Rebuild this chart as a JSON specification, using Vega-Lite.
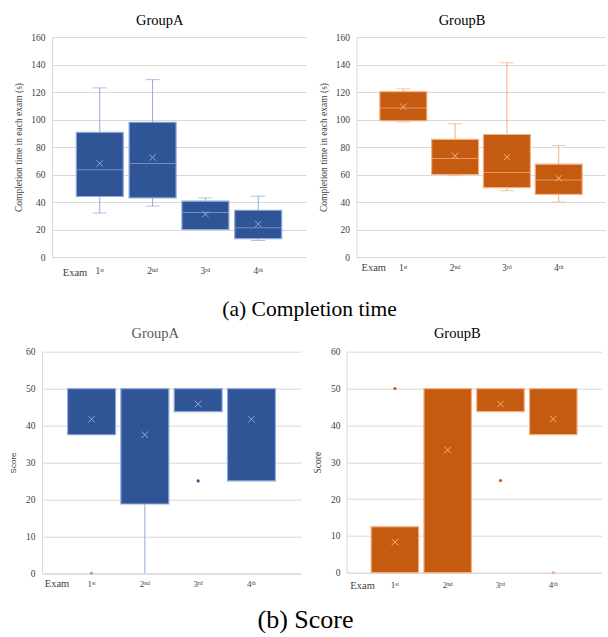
{
  "$schema": "https://vega.github.io/schema/vega-lite/v6.json",
  "padding": {"left": 9, "top": 12, "right": 0, "bottom": 0},
  "background": "white",
  "spacing": 5.7,
  "config": {
    "font": "Liberation Serif",
    "view": {"stroke": null},
    "axis": {"labelFont": "Liberation Serif", "titleFont": "Liberation Serif", "labelColor": "#404040", "titleColor": "#404040", "titleFontWeight": "normal", "ticks": false, "tickSize": 0, "gridColor": "#d9d9d9", "domainColor": "#d9d9d9", "gridWidth": 1, "domainWidth": 1, "labelOverlap": false},
    "style": {"guide-label": {"font": "Liberation Serif"}, "guide-title": {"font": "Liberation Serif"}, "group-title": {"font": "Liberation Serif"}},
    "title": {"font": "Liberation Serif", "fontWeight": "normal", "color": "#000000", "anchor": "middle", "baseline": "alphabetic", "frame": "bounds"}
  },
  "datasets": {
    "time": [
      {"group": "A", "exam": "1st", "low": 32, "q1": 44, "median": 63.5, "q3": 90.7, "high": 123, "mean": 68},
      {"group": "A", "exam": "2nd", "low": 37, "q1": 43, "median": 68, "q3": 98, "high": 129, "mean": 72.4},
      {"group": "A", "exam": "3rd", "low": 20, "q1": 20, "median": 32.3, "q3": 40.6, "high": 43, "mean": 31.2},
      {"group": "A", "exam": "4th", "low": 12, "q1": 13.4, "median": 21.3, "q3": 34, "high": 44.2, "mean": 24},
      {"group": "B", "exam": "1st", "low": 98.2, "q1": 99.1, "median": 108.3, "q3": 120.3, "high": 122.3, "mean": 109.3},
      {"group": "B", "exam": "2nd", "low": 59.2, "q1": 60, "median": 71.6, "q3": 85.5, "high": 97, "mean": 73.6},
      {"group": "B", "exam": "3rd", "low": 48.2, "q1": 50.4, "median": 61.4, "q3": 89.1, "high": 141.3, "mean": 72.6},
      {"group": "B", "exam": "4th", "low": 40, "q1": 45.6, "median": 56, "q3": 67.5, "high": 81.1, "mean": 57.3}
    ],
    "score": [
      {"group": "A", "exam": "1st", "low": 37.5, "q1": 37.5, "median": 50, "q3": 50, "high": 50, "mean": 41.7},
      {"group": "A", "exam": "2nd", "low": 0, "q1": 18.75, "median": 50, "q3": 50, "high": 50, "mean": 37.5},
      {"group": "A", "exam": "3rd", "low": 43.75, "q1": 43.75, "median": 50, "q3": 50, "high": 50, "mean": 45.8},
      {"group": "A", "exam": "4th", "low": 25, "q1": 25, "median": 50, "q3": 50, "high": 50, "mean": 41.7},
      {"group": "B", "exam": "1st", "low": 0, "q1": 0, "median": 12.5, "q3": 12.5, "high": 12.5, "mean": 8.3},
      {"group": "B", "exam": "2nd", "low": 0, "q1": 0, "median": 50, "q3": 50, "high": 50, "mean": 33.3},
      {"group": "B", "exam": "3rd", "low": 43.75, "q1": 43.75, "median": 50, "q3": 50, "high": 50, "mean": 45.8},
      {"group": "B", "exam": "4th", "low": 37.5, "q1": 37.5, "median": 50, "q3": 50, "high": 50, "mean": 41.7}
    ],
    "score_out": [
      {"group": "A", "exam": "1st", "value": 0},
      {"group": "A", "exam": "3rd", "value": 25},
      {"group": "B", "exam": "1st", "value": 50},
      {"group": "B", "exam": "3rd", "value": 25},
      {"group": "B", "exam": "4th", "value": 0}
    ]
  },
  "vconcat": [
    {
      "spacing": 12.5,
      "title": {"text": "(a) Completion time", "orient": "bottom", "fontSize": 21.5, "offset": 20.5, "font": "Liberation Serif", "frame": "bounds"},
      "hconcat": [
        {
          "width": 254, "height": 220,
          "title": {"text": "GroupA", "fontSize": 14.5, "offset": 4, "font": "Liberation Serif", "frame": "bounds"},
          "data": {"name": "time"},
          "transform": [{"filter": "datum.group == 'A'"}],
          "encoding": {
            "x": {"field": "exam", "type": "nominal", "sort": ["1st", "2nd", "3rd", "4th"],
              "scale": {"paddingInner": 0.11, "paddingOuter": 0.46},
              "axis": {"title": "Exam", "titleX": 22.5, "titleY": 18.5, "titleAlign": "center", "titleBaseline": "alphabetic", "titleFontSize": 10.5, "labelAngle": 0, "labelBaseline": "alphabetic", "labelPadding": 16.5, "labelFontSize": 9.5, "grid": false, "domain": true,
                "labelExpr": "datum.value == '1st' ? '1ˢᵗ' : datum.value == '2nd' ? '2ⁿᵈ' : datum.value == '3rd' ? '3ʳᵈ' : '4ᵗʰ'"}}
          },
          "layer": [
            {"mark": {"type": "rule", "color": "#8FAADC", "strokeWidth": 1},
              "encoding": {"y": {"field": "low", "type": "quantitative", "scale": {"domain": [0, 160], "nice": false},
                "axis": {"title": "Completion time in each exam (s)", "values": [0, 20, 40, 60, 80, 100, 120, 140, 160], "tickCount": 50, "grid": true, "domain": true, "labelPadding": 7, "labelFontSize": 9.5, "minExtent": 22, "maxExtent": 22, "titlePadding": 6.5, "titleFontSize": 9.5}},
                "y2": {"field": "high"}}},
            {"mark": {"type": "tick", "color": "#8FAADC", "size": 14, "thickness": 1}, "encoding": {"y": {"field": "low", "type": "quantitative"}}},
            {"mark": {"type": "tick", "color": "#8FAADC", "size": 14, "thickness": 1}, "encoding": {"y": {"field": "high", "type": "quantitative"}}},
            {"mark": {"type": "bar", "fill": "#2F5597", "stroke": "#8FAADC", "strokeWidth": 1.2}, "encoding": {"y": {"field": "q1", "type": "quantitative"}, "y2": {"field": "q3"}}},
            {"mark": {"type": "tick", "color": "#8FAADC", "size": 46, "thickness": 1}, "encoding": {"y": {"field": "median", "type": "quantitative"}}},
            {"mark": {"type": "point", "shape": "M-1,-1L1,1M-1,1L1,-1", "filled": false, "stroke": "#8FAADC", "strokeWidth": 1, "size": 40, "opacity": 1}, "encoding": {"y": {"field": "mean", "type": "quantitative"}}}
          ]
        },
        {
          "width": 249, "height": 220,
          "title": {"text": "GroupB", "fontSize": 14.5, "offset": 4, "font": "Liberation Serif", "frame": "bounds"},
          "data": {"name": "time"},
          "transform": [{"filter": "datum.group == 'B'"}],
          "encoding": {
            "x": {"field": "exam", "type": "nominal", "sort": ["1st", "2nd", "3rd", "4th"],
              "scale": {"paddingInner": 0.093, "paddingOuter": 0.45},
              "axis": {"title": "Exam", "titleX": 16.8, "titleY": 13.5, "titleAlign": "center", "titleBaseline": "alphabetic", "titleFontSize": 10.5, "labelAngle": 0, "labelBaseline": "alphabetic", "labelPadding": 13, "labelFontSize": 9.5, "grid": false, "domain": true,
                "labelExpr": "datum.value == '1st' ? '1ˢᵗ' : datum.value == '2nd' ? '2ⁿᵈ' : datum.value == '3rd' ? '3ʳᵈ' : '4ᵗʰ'"}}
          },
          "layer": [
            {"mark": {"type": "rule", "color": "#F4B183", "strokeWidth": 1},
              "encoding": {"y": {"field": "low", "type": "quantitative", "scale": {"domain": [0, 160], "nice": false},
                "axis": {"title": "Completion time in each exam (s)", "values": [0, 20, 40, 60, 80, 100, 120, 140, 160], "tickCount": 50, "grid": true, "domain": true, "labelPadding": 7, "labelFontSize": 9.5, "minExtent": 22, "maxExtent": 22, "titlePadding": 6, "titleFontSize": 9.5}},
                "y2": {"field": "high"}}},
            {"mark": {"type": "tick", "color": "#F4B183", "size": 14, "thickness": 1}, "encoding": {"y": {"field": "low", "type": "quantitative"}}},
            {"mark": {"type": "tick", "color": "#F4B183", "size": 14, "thickness": 1}, "encoding": {"y": {"field": "high", "type": "quantitative"}}},
            {"mark": {"type": "bar", "fill": "#C55A11", "stroke": "#F4B183", "strokeWidth": 1.2}, "encoding": {"y": {"field": "q1", "type": "quantitative"}, "y2": {"field": "q3"}}},
            {"mark": {"type": "tick", "color": "#F4B183", "size": 46, "thickness": 1}, "encoding": {"y": {"field": "median", "type": "quantitative"}}},
            {"mark": {"type": "point", "shape": "M-1,-1L1,1M-1,1L1,-1", "filled": false, "stroke": "#F4B183", "strokeWidth": 1, "size": 40, "opacity": 1}, "encoding": {"y": {"field": "mean", "type": "quantitative"}}}
          ]
        }
      ]
    },
    {
      "spacing": 1.6,
      "title": {"text": "(b) Score", "orient": "bottom", "fontSize": 26, "offset": 16, "font": "Liberation Serif", "frame": "bounds"},
      "hconcat": [
        {
          "width": 249, "height": 221.5,
          "title": {"text": "GroupA", "fontSize": 14.5, "offset": 5, "dx": -5, "color": "#595959", "font": "Liberation Serif", "frame": "bounds"},
          "encoding": {
            "x": {"field": "exam", "type": "nominal", "sort": ["1st", "2nd", "3rd", "4th"],
              "scale": {"range": [-10, 249], "paddingInner": 0.1, "paddingOuter": 0.48},
              "axis": {"title": "Exam", "titleX": 4.5, "titleY": 13.5, "titleAlign": "center", "titleBaseline": "alphabetic", "titleFontSize": 10.5, "labelAngle": 0, "labelBaseline": "alphabetic", "labelPadding": 13.5, "labelFontSize": 9, "grid": false, "domain": true,
                "labelExpr": "datum.value == '1st' ? '1ˢᵗ' : datum.value == '2nd' ? '2ⁿᵈ' : datum.value == '3rd' ? '3ʳᵈ' : '4ᵗʰ'"}}
          },
          "layer": [
            {"data": {"name": "score"}, "transform": [{"filter": "datum.group == 'A'"}],
              "mark": {"type": "rule", "color": "#8FAADC", "strokeWidth": 1},
              "encoding": {"y": {"field": "low", "type": "quantitative", "scale": {"domain": [0, 60], "nice": false},
                "axis": {"title": "Score", "titleFont": "Liberation Sans", "offset": 10, "values": [0, 10, 20, 30, 40, 50, 60], "tickCount": 50, "grid": true, "domain": true, "labelPadding": 7, "labelFontSize": 9.5, "minExtent": 17, "maxExtent": 17, "titlePadding": 7.5, "titleFontSize": 8}},
                "y2": {"field": "high"}}},
            {"data": {"name": "score"}, "transform": [{"filter": "datum.group == 'A'"}],
              "mark": {"type": "bar", "fill": "#2F5597", "stroke": "#8FAADC", "strokeWidth": 1.2}, "encoding": {"y": {"field": "q1", "type": "quantitative"}, "y2": {"field": "q3"}}},
            {"data": {"name": "score"}, "transform": [{"filter": "datum.group == 'A'"}],
              "mark": {"type": "tick", "color": "#8FAADC", "size": 47, "thickness": 1}, "encoding": {"y": {"field": "median", "type": "quantitative"}}},
            {"data": {"name": "score"}, "transform": [{"filter": "datum.group == 'A'"}],
              "mark": {"type": "point", "shape": "M-1,-1L1,1M-1,1L1,-1", "filled": false, "stroke": "#8FAADC", "strokeWidth": 1, "size": 44, "opacity": 1}, "encoding": {"y": {"field": "mean", "type": "quantitative"}}},
            {"data": {"name": "score_out"}, "transform": [{"filter": "datum.group == 'A'"}],
              "mark": {"type": "circle", "size": 10, "opacity": 1},
              "encoding": {"y": {"field": "value", "type": "quantitative"}, "color": {"condition": {"test": "datum.value == 0", "value": "#8FAADC"}, "value": "#2F5597"}}}
          ]
        },
        {
          "width": 255, "height": 221,
          "title": {"text": "GroupB", "fontSize": 14.5, "offset": 5, "font": "Liberation Serif", "frame": "bounds"},
          "encoding": {
            "x": {"field": "exam", "type": "nominal", "sort": ["1st", "2nd", "3rd", "4th"],
              "scale": {"paddingInner": 0.1, "paddingOuter": 0.465},
              "axis": {"title": "Exam", "titleX": 15.5, "titleY": 15.5, "titleAlign": "center", "titleBaseline": "alphabetic", "titleFontSize": 10.5, "labelAngle": 0, "labelBaseline": "alphabetic", "labelPadding": 14.5, "labelFontSize": 9, "grid": false, "domain": true,
                "labelExpr": "datum.value == '1st' ? '1ˢᵗ' : datum.value == '2nd' ? '2ⁿᵈ' : datum.value == '3rd' ? '3ʳᵈ' : '4ᵗʰ'"}}
          },
          "layer": [
            {"data": {"name": "score"}, "transform": [{"filter": "datum.group == 'B'"}],
              "mark": {"type": "rule", "color": "#F4B183", "strokeWidth": 1},
              "encoding": {"y": {"field": "low", "type": "quantitative", "scale": {"domain": [0, 60], "nice": false},
                "axis": {"title": "Score", "values": [0, 10, 20, 30, 40, 50, 60], "tickCount": 50, "grid": true, "domain": true, "labelPadding": 6.7, "labelFontSize": 9.5, "minExtent": 16, "maxExtent": 16, "titlePadding": 7.7, "titleFontSize": 9.5}},
                "y2": {"field": "high"}}},
            {"data": {"name": "score"}, "transform": [{"filter": "datum.group == 'B'"}],
              "mark": {"type": "bar", "fill": "#C55A11", "stroke": "#F4B183", "strokeWidth": 1.2}, "encoding": {"y": {"field": "q1", "type": "quantitative"}, "y2": {"field": "q3"}}},
            {"data": {"name": "score"}, "transform": [{"filter": "datum.group == 'B'"}],
              "mark": {"type": "tick", "color": "#F4B183", "size": 47, "thickness": 1}, "encoding": {"y": {"field": "median", "type": "quantitative"}}},
            {"data": {"name": "score"}, "transform": [{"filter": "datum.group == 'B'"}],
              "mark": {"type": "point", "shape": "M-1,-1L1,1M-1,1L1,-1", "filled": false, "stroke": "#F4B183", "strokeWidth": 1, "size": 44, "opacity": 1}, "encoding": {"y": {"field": "mean", "type": "quantitative"}}},
            {"data": {"name": "score_out"}, "transform": [{"filter": "datum.group == 'B'"}],
              "mark": {"type": "circle", "size": 10, "opacity": 1},
              "encoding": {"y": {"field": "value", "type": "quantitative"}, "color": {"condition": {"test": "datum.value == 0", "value": "#F4B183"}, "value": "#C55A11"}}}
          ]
        }
      ]
    }
  ]
}
